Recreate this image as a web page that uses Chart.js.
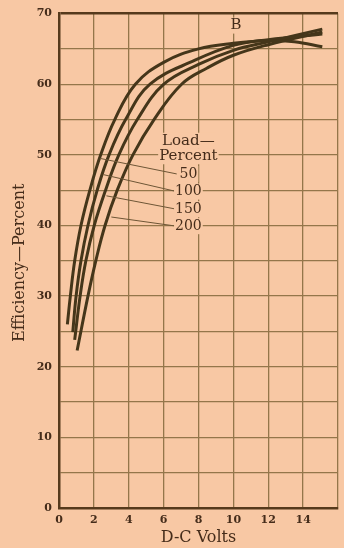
<!DOCTYPE html>
<html>
<head>
<meta charset="utf-8">
<script src="https://cdn.jsdelivr.net/npm/chart.js@4.4.1/dist/chart.umd.min.js"></script>
<style>
  html, body { margin: 0; padding: 0; background: #f8c8a4; }
  #wrap { width: 344px; height: 548px; }
</style>
</head>
<body>
<div id="wrap"><canvas id="chart" width="344" height="548"></canvas></div>
<script>
// Efficiency (percent) against D-C volts, one curve per load percent
const volts50  = [0.48, 0.65, 0.9, 1.26, 1.77, 2.39, 3.2, 4.38, 6.0, 8.0, 10.0, 12.0, 13.5, 15.1];
const eff50    = [26, 30, 35, 40, 45, 50, 55, 60, 63.1, 65.0, 65.8, 66.2, 66.0, 65.3];

const volts100 = [0.79, 0.98, 1.26, 1.66, 2.19, 2.87, 3.82, 5.22, 7.8, 10.0, 12.0, 15.1];
const eff100   = [24.9, 30, 35, 40, 45, 50, 55, 60, 63.4, 65.5, 66.3, 67.1];

const volts150 = [0.9, 1.21, 1.54, 2.02, 2.67, 3.43, 4.49, 6.01, 8.0, 10.0, 12.0, 15.1];
const eff150   = [23.8, 30, 35, 40, 45, 50, 55, 60, 62.8, 64.8, 66.0, 67.8];

const volts200 = [1.04, 1.66, 2.11, 2.64, 3.34, 4.24, 5.45, 7.03, 8.5, 10.0, 12.0, 15.1];
const eff200   = [22.3, 30, 35, 40, 45, 50, 55, 60, 62.3, 64.1, 65.6, 67.4];

const loadLabels = ["50", "100", "150", "200"];
const xTickLabels = [0, 2, 4, 6, 8, 10, 12, 14];
const yTickLabels = [0, 10, 20, 30, 40, 50, 60, 70];

const PAPER = '#f8c8a4';
const INK = '#452c1a';
const CURVE = '#45361a';
const GRID = '#94764a';
const SERIF = '"DejaVu Serif", "Liberation Serif", serif';

function toPoints(xs, ys) {
    return xs.map((v, i) => ({x: v, y: ys[i]}));
}

const curveStyle = {
    showLine: true,
    borderColor: CURVE,
    borderWidth: 3,
    pointRadius: 0,
    tension: 0.4,
    fill: false
};

const paperPlugin = {
    id: 'paper',
    beforeDraw(chart) {
        const ctx = chart.ctx;
        ctx.save();
        ctx.fillStyle = PAPER;
        ctx.fillRect(0, 0, chart.width, chart.height);
        ctx.restore();
    }
};

// text with a paper patch behind it, so the grid is broken where the words sit
function patchText(ctx, text, px, py) {
    const w = ctx.measureText(text).width;
    ctx.fillStyle = PAPER;
    ctx.fillRect(px - w / 2 - 1, py - 8, w + 2, 16);
    ctx.fillStyle = INK;
    ctx.fillText(text, px, py);
}

const notesPlugin = {
    id: 'notes',
    afterDatasetsDraw(chart) {
        const {ctx, chartArea} = chart;
        const x = chart.scales.x, y = chart.scales.y;
        ctx.save();

        // leader lines from the load labels to their curves
        const labelEff = [47.3, 44.8, 42.3, 39.9];
        const touchVolts = [2.35, 2.55, 2.72, 3.0];
        const touchEff = [49.5, 47.2, 44.2, 41.2];
        ctx.strokeStyle = '#6e5636';
        ctx.lineWidth = 1;
        loadLabels.forEach((lab, i) => {
            ctx.beginPath();
            ctx.moveTo(x.getPixelForValue(6.75), y.getPixelForValue(labelEff[i]));
            ctx.lineTo(x.getPixelForValue(touchVolts[i]), y.getPixelForValue(touchEff[i]));
            ctx.stroke();
        });

        ctx.textAlign = 'center';
        ctx.textBaseline = 'middle';
        const lx = x.getPixelForValue(7.42);
        ctx.font = '15px ' + SERIF;
        patchText(ctx, 'Load—', lx, y.getPixelForValue(52.0));
        patchText(ctx, 'Percent', lx, y.getPixelForValue(49.8));
        ctx.font = '14px ' + SERIF;
        loadLabels.forEach((lab, i) => {
            patchText(ctx, lab, lx, y.getPixelForValue(labelEff[i]));
        });
        ctx.font = '15px ' + SERIF;
        patchText(ctx, 'B', x.getPixelForValue(10.15), y.getPixelForValue(68.3));

        // axis titles
        ctx.font = '16px ' + SERIF;
        ctx.fillStyle = INK;
        ctx.fillText('D-C Volts', (chartArea.left + chartArea.right) / 2, 538);
        ctx.translate(20, (chartArea.top + chartArea.bottom) / 2 + 2);
        ctx.rotate(-Math.PI / 2);
        ctx.fillText('Efficiency—Percent', 0, 0);
        ctx.restore();
    }
};

const chart = new Chart(document.getElementById('chart'), {
    type: 'scatter',
    data: {
        datasets: [
            Object.assign({label: loadLabels[0], data: toPoints(volts50, eff50)}, curveStyle),
            Object.assign({label: loadLabels[1], data: toPoints(volts100, eff100)}, curveStyle),
            Object.assign({label: loadLabels[2], data: toPoints(volts150, eff150)}, curveStyle),
            Object.assign({label: loadLabels[3], data: toPoints(volts200, eff200)}, curveStyle)
        ]
    },
    options: {
        responsive: false,
        animation: false,
        layout: {padding: {top: 8, right: 0, bottom: 0, left: 0}},
        plugins: {legend: {display: false}, tooltip: {enabled: false}},
        scales: {
            x: {
                type: 'linear',
                min: 0,
                max: 16,
                afterFit: s => { s.height = 40; },
                border: {display: true, color: '#563a1c', width: 2.5},
                grid: {color: GRID, lineWidth: 1.3, drawTicks: false},
                ticks: {
                    stepSize: 2,
                    padding: 6,
                    color: INK,
                    font: {family: SERIF, size: 11, weight: 'bold'},
                    callback: v => xTickLabels.includes(v) ? String(v) : ''
                }
            },
            y: {
                type: 'linear',
                min: 0,
                max: 70,
                afterFit: s => { s.width = 59; },
                border: {display: true, color: '#563a1c', width: 2.5},
                grid: {
                    color: ctx => ctx.tick && ctx.tick.value === 70 ? '#563a1c' : GRID,
                    lineWidth: ctx => ctx.tick && ctx.tick.value === 70 ? 2.5 : 1.3,
                    drawTicks: false
                },
                ticks: {
                    stepSize: 5,
                    padding: 7,
                    color: INK,
                    font: {family: SERIF, size: 11, weight: 'bold'},
                    callback: v => yTickLabels.includes(v) ? String(v) : ''
                }
            }
        }
    },
    plugins: [paperPlugin, notesPlugin]
});
</script>
</body>
</html>
